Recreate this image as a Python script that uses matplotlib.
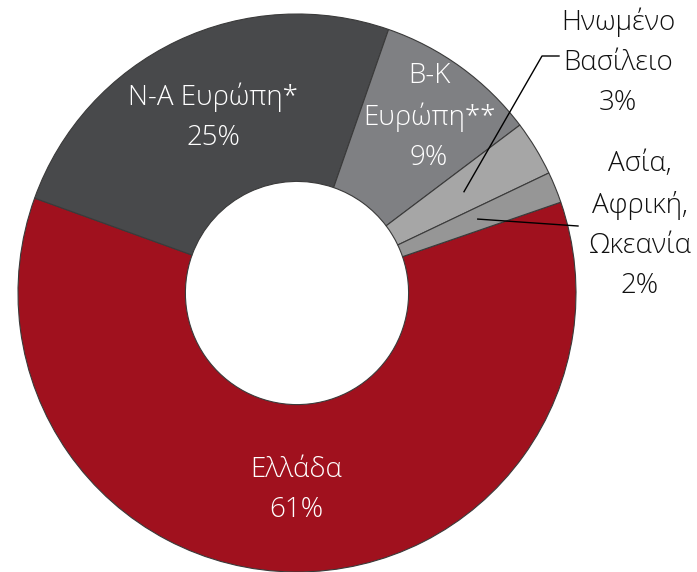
import numpy as np
import matplotlib
matplotlib.use('Agg')
import matplotlib.pyplot as plt

# shares (labels show rounded values)
regions = ['Ελλάδα', 'Ν-Α Ευρώπη*', 'Β-Κ\nΕυρώπη**', 'Ηνωμένο\nΒασίλειο', 'Ασία,\nΑφρική,\nΩκεανία']
shares = [60.8, 24.8, 9.4, 3.2, 1.8]
colors = ['#A0111E', '#48494B', '#7F8083', '#A6A6A6', '#969696']

plt.rcParams['font.family'] = ['Open Sans', 'DejaVu Sans']

fig = plt.figure(figsize=(6.97, 5.72), dpi=100)
ax = fig.add_axes([0, 0, 1, 1])
ax.axis('off')

cx, cy, R = 297, 279, 279
wedges, _ = ax.pie(shares, colors=colors, startangle=19, counterclock=False,
                   center=(cx, cy), radius=R,
                   wedgeprops=dict(width=R * 0.6, edgecolor='#3a3a3a', linewidth=0.8))
ax.set_xlim(0, 697)
ax.set_ylim(0, 572)

fs = 20
ls = 1.58

def lab(i):
    return '%s\n%.0f%%' % (regions[i], shares[i])

# labels inside the ring
ax.text(296, 572 - 490, lab(0), color='white', ha='center', va='center',
        fontsize=fs, fontweight='light', linespacing=ls)
ax.text(213, 572 - 117, lab(1), color='white', ha='center', va='center',
        fontsize=fs, fontweight='light', linespacing=ls)
ax.text(429, 572 - 117, lab(2), color='white', ha='center', va='center',
        fontsize=fs, fontweight='light', linespacing=ls)

# outside labels with leader lines from mid-ring
def midring(w):
    a = np.deg2rad((w.theta1 + w.theta2) / 2)
    return cx + 0.7 * R * np.cos(a), cy + 0.7 * R * np.sin(a)

ax.text(618, 572 - 62, lab(3), color='#111111', ha='center', va='center',
        fontsize=fs, fontweight='light', linespacing=ls)
x0, y0 = midring(wedges[3])
ax.plot([x0, 542, 559], [y0, 572 - 56, 572 - 56], color='black', lw=1)

ax.text(640, 572 - 225, lab(4), color='#111111', ha='center', va='center',
        fontsize=fs, fontweight='light', linespacing=ls)
x0, y0 = midring(wedges[4])
ax.plot([x0, 578], [y0, 572 - 226], color='black', lw=1)

fig.savefig('out.png', dpi=100)
